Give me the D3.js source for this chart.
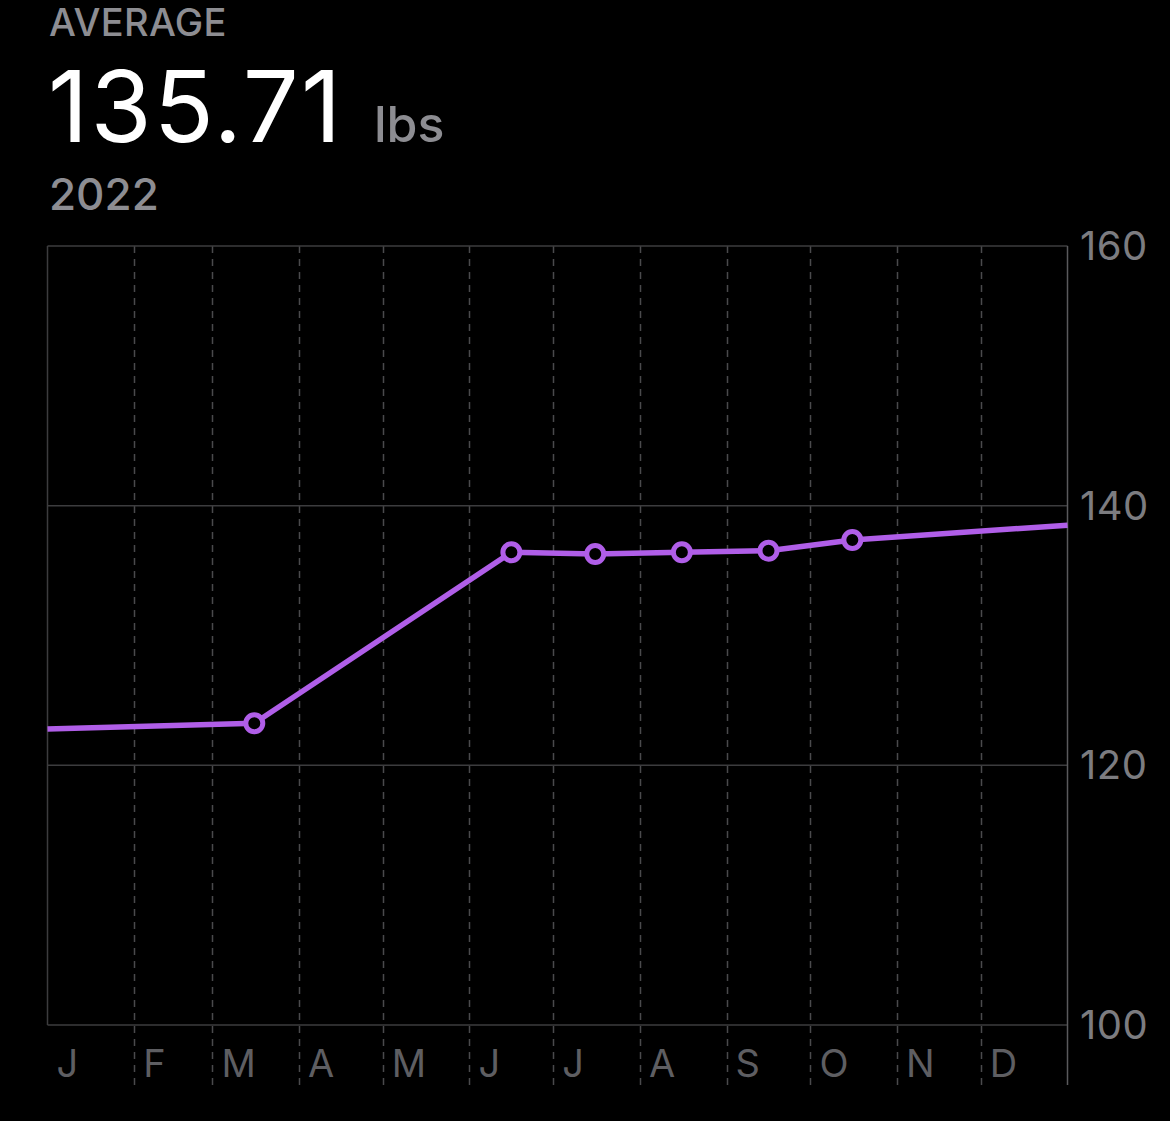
<!DOCTYPE html>
<html>
<head>
<meta charset="utf-8">
<script src="https://cdn.jsdelivr.net/npm/d3@7"></script>
<style>
  html, body { margin: 0; padding: 0; background: #000; }
  svg { display: block; }
  text { font-family: Inter, "Noto Sans", sans-serif; }
</style>
</head>
<body>
<svg id="chart" width="1170" height="1121"></svg>
<script>
// ---- data ----
const headerLabel = "AVERAGE";
const averageValue = "135.71";
const unitLabel = "lbs";
const periodLabel = "2022";

const monthLabels = ["J", "F", "M", "A", "M", "J", "J", "A", "S", "O", "N", "D"];
const yTicks = [100, 120, 140, 160];

// monthly average readings (markers)
const pointDates = ["2022-03-16", "2022-06-16", "2022-07-16", "2022-08-16", "2022-09-16", "2022-10-16"];
const pointValues = [123.24, 136.41, 136.28, 136.41, 136.53, 137.36];

// line continuation at the year edges (from neighbouring years)
const edgeDates = ["2022-01-01", "2023-01-01"];
const edgeValues = [122.8, 138.5];

// ---- layout ----
const svg = d3.select("#chart");
const W = 1170, H = 1121;
const plotLeft = 47.5, plotRight = 1067.5, plotTop = 246, plotBottom = 1025;

svg.append("rect").attr("width", W).attr("height", H).attr("fill", "#000");

const parse = d3.utcParse("%Y-%m-%d");
const x = d3.scaleUtc()
  .domain([parse("2022-01-01"), parse("2023-01-01")])
  .range([plotLeft, plotRight]);
const y = d3.scaleLinear().domain([100, 160]).range([plotBottom, plotTop]);

// header
svg.append("text").attr("x", 49).attr("y", 36)
  .attr("font-size", 38).attr("font-weight", 500).attr("fill", "#8d8d92")
  .attr("letter-spacing", 0.3)
  .text(headerLabel);
svg.append("text").attr("x", 48).attr("y", 142)
  .attr("font-size", 99).attr("font-weight", 400).attr("fill", "#fff")
  .attr("letter-spacing", 2.2)
  .text(averageValue);
svg.append("text").attr("x", 374).attr("y", 142)
  .attr("font-size", 50).attr("font-weight", 500).attr("fill", "#8d8d92")
  .text(unitLabel);
svg.append("text").attr("x", 49).attr("y", 210)
  .attr("font-size", 44).attr("font-weight", 500).attr("fill", "#8d8d92")
  .text(periodLabel);

// grid
const g = svg.append("g");
const months = d3.utcMonth.range(parse("2022-01-01"), parse("2023-01-01"));

// dashed month separators (skip first, which is the solid left border)
g.selectAll("line.month").data(months.slice(1)).join("line")
  .attr("class", "month")
  .attr("x1", d => Math.round(x(d)) + 0.5).attr("x2", d => Math.round(x(d)) + 0.5)
  .attr("y1", plotTop).attr("y2", 1085)
  .attr("stroke", "#4a4a4c").attr("stroke-width", 1.5)
  .attr("stroke-dasharray", "7,6");

// horizontal gridlines
g.selectAll("line.h").data(yTicks).join("line")
  .attr("class", "h")
  .attr("x1", plotLeft).attr("x2", plotRight)
  .attr("y1", d => y(d)).attr("y2", d => y(d))
  .attr("stroke", "#3c3c3e").attr("stroke-width", 1.5);

// left border
g.append("line").attr("x1", plotLeft).attr("x2", plotLeft).attr("y1", plotTop).attr("y2", plotBottom)
  .attr("stroke", "#3c3c3e").attr("stroke-width", 1.5);
// right axis line
g.append("line").attr("x1", plotRight).attr("x2", plotRight).attr("y1", plotTop).attr("y2", 1085)
  .attr("stroke", "#5a5a5c").attr("stroke-width", 1.5);

// y tick labels
svg.selectAll("text.ytick").data(yTicks).join("text")
  .attr("class", "ytick")
  .attr("x", 1080).attr("y", d => y(d) + 14)
  .attr("font-size", 40).attr("fill", "#7c7c80")
  .attr("letter-spacing", 0.5)
  .text(d => d);

// month labels
svg.selectAll("text.mtick").data(months).join("text")
  .attr("class", "mtick")
  .attr("x", d => x(d) + 9).attr("y", 1077)
  .attr("font-size", 38).attr("fill", "#5e5e62")
  .text((d, i) => monthLabels[i]);

// line
const pts = pointDates.map((d, i) => ({ date: parse(d), value: pointValues[i] }));
const linePts = [{ date: parse(edgeDates[0]), value: edgeValues[0] }]
  .concat(pts)
  .concat([{ date: parse(edgeDates[1]), value: edgeValues[1] }]);

const line = d3.line().x(d => x(d.date)).y(d => y(d.value));
svg.append("path").datum(linePts)
  .attr("d", line)
  .attr("fill", "none").attr("stroke", "#b05ee8")
  .attr("stroke-width", 5.5).attr("stroke-linejoin", "round");

svg.selectAll("circle.pt").data(pts).join("circle")
  .attr("class", "pt")
  .attr("cx", d => x(d.date)).attr("cy", d => y(d.value))
  .attr("r", 8.5)
  .attr("fill", "#000").attr("stroke", "#b05ee8").attr("stroke-width", 5);
</script>
</body>
</html>
